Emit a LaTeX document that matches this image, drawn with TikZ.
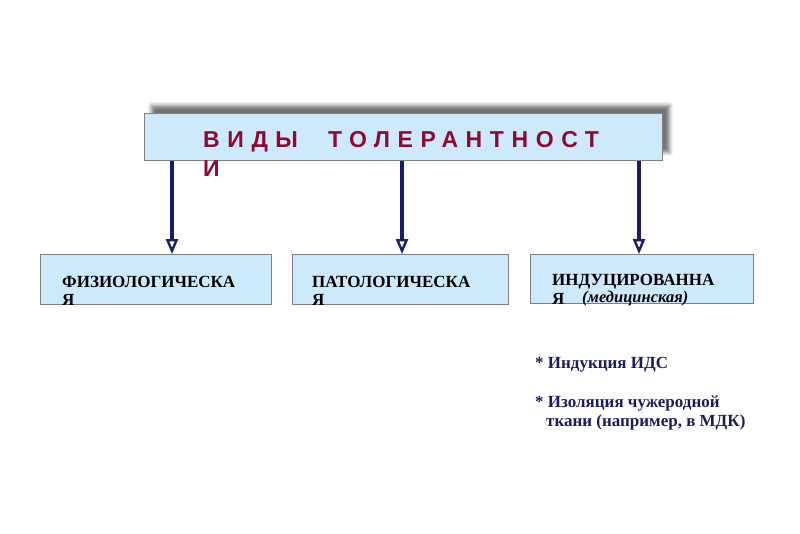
\documentclass[tikz,border=0pt]{standalone}
\usepackage{fontspec}
\setmainfont{Liberation Serif}
\newfontfamily\titlefont[LetterSpace=33]{Liberation Sans}
\usetikzlibrary{arrows.meta,shadows.blur}
\definecolor{boxfill}{HTML}{CCEAFB}
\definecolor{boxline}{HTML}{7F7F7F}
\definecolor{titlered}{HTML}{8E0A30}
\definecolor{navy}{HTML}{1C1C6A}
\definecolor{bullnavy}{HTML}{1C1C5C}
\tikzset{
  box/.style={draw=boxline, line width=0.9pt, fill=boxfill, rectangle, inner sep=0, anchor=north west},
  titletext/.style={anchor=base west, inner sep=0, text=titlered, font=\titlefont\bfseries\fontsize{23}{26}\selectfont},
  boxtext/.style={anchor=base west, inner sep=0, font=\bfseries\fontsize{17}{19}\selectfont},
  italtext/.style={anchor=base west, inner sep=0, font=\bfseries\itshape\fontsize{16.5}{18}\selectfont},
  bultext/.style={anchor=base west, inner sep=0, text=bullnavy, font=\bfseries\fontsize{17}{19}\selectfont},
  arr/.style={draw=navy, line width=3.2pt, -{Triangle[open, length=15pt, width=12pt, line width=2.4pt]}}
}
\begin{document}
\begin{tikzpicture}[x=1pt,y=-1pt]
\useasboundingbox (0,0) rectangle (800,533);
% top box
\node[box, minimum width=518pt, minimum height=47pt,
  blur shadow={shadow xshift=7pt, shadow yshift=8pt, shadow opacity=55, shadow blur radius=4pt}] (t) at (144,113) {};
\node[titletext] (t1) at (203,147) {ВИДЫ\hspace{30pt}ТОЛЕРАНТНОСТ};
\node[titletext] (t2) at (203,176) {И};
% lower boxes
\node[box, minimum width=231pt, minimum height=50pt] (b1) at (40,254) {};
\node[box, minimum width=216pt, minimum height=50pt] (b2) at (292,254) {};
\node[box, minimum width=223pt, minimum height=49pt] (b3) at (530,254) {};
\node[boxtext] (b1a) at (62,287) {ФИЗИОЛОГИЧЕСКА};
\node[boxtext] (b1b) at (62,305) {Я};
\node[boxtext] (b2a) at (312,287) {ПАТОЛОГИЧЕСКА};
\node[boxtext] (b2b) at (312,305) {Я};
\node[boxtext] (b3a) at (552,285) {ИНДУЦИРОВАННА};
\node[boxtext] (b3b) at (552,304) {Я};
\node[italtext] (b3c) at (582,302) {(медицинская)};
% arrows
\coordinate (a1) at (172,0);
\coordinate (a2) at (402,0);
\coordinate (a3) at (639,0);
\draw[arr] (t.south -| a1) -- (b1.north -| a1);
\draw[arr] (t.south -| a2) -- (b2.north -| a2);
\draw[arr] (t.south -| a3) -- (b3.north -| a3);
% bullets
\node[bultext] (c1) at (535,368) {* Индукция ИДС};
\node[bultext] (c2) at (535,407) {* Изоляция чужеродной};
\node[bultext] (c3) at (546,426) {ткани (например, в МДК)};
\end{tikzpicture}
\end{document}
